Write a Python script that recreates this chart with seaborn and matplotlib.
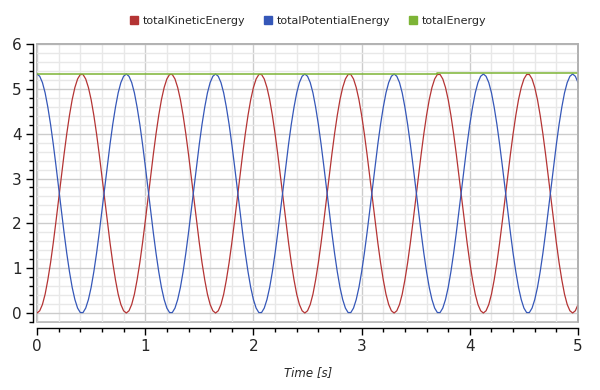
import numpy as np
import pandas as pd
import matplotlib
matplotlib.use('Agg')
import matplotlib.pyplot as plt
from matplotlib.ticker import MultipleLocator
from matplotlib.lines import Line2D
import seaborn as sns

# sampling grid of the simulation result (step 0.025 s)
time = np.linspace(0, 5, 201)

kinetic = [
    0.00, 0.05, 0.19, 0.42, 0.74, 1.12, 1.56, 2.04, 2.54, 3.04, 3.54, 4.00, 4.41, 4.76, 5.03, 5.22, 5.32, 5.32, 5.22, 5.03, 4.76, 4.41, 4.00, 3.54, 3.04, 2.54, 2.04, 1.56, 1.12, 0.74, 0.42, 0.19, 0.05,
    0.00, 0.05, 0.19, 0.42, 0.74, 1.12, 1.56, 2.04, 2.54, 3.04, 3.54, 4.00, 4.41, 4.76, 5.03, 5.22, 5.32, 5.32, 5.22, 5.03, 4.76, 4.41, 4.00, 3.54, 3.04, 2.54, 2.04, 1.56, 1.12, 0.74, 0.42, 0.19, 0.05,
    0.00, 0.05, 0.19, 0.42, 0.74, 1.12, 1.56, 2.04, 2.54, 3.04, 3.54, 4.00, 4.41, 4.76, 5.03, 5.22, 5.32, 5.32, 5.22, 5.03, 4.76, 4.41, 4.00, 3.54, 3.04, 2.54, 2.04, 1.56, 1.12, 0.74, 0.42, 0.19, 0.05,
    0.00, 0.05, 0.19, 0.42, 0.74, 1.12, 1.56, 2.04, 2.54, 3.04, 3.54, 4.00, 4.41, 4.76, 5.03, 5.22, 5.32, 5.32, 5.22, 5.03, 4.76, 4.41, 4.00, 3.54, 3.04, 2.54, 2.04, 1.56, 1.12, 0.74, 0.42, 0.19, 0.05,
    0.00, 0.05, 0.19, 0.42, 0.74, 1.12, 1.56, 2.04, 2.54, 3.04, 3.54, 4.00, 4.41, 4.76, 5.03, 5.22, 5.32, 5.32, 5.22, 5.03, 4.76, 4.41, 4.00, 3.54, 3.04, 2.54, 2.04, 1.56, 1.12, 0.74, 0.42, 0.19, 0.05,
    0.00, 0.05, 0.19, 0.42, 0.74, 1.12, 1.56, 2.04, 2.54, 3.04, 3.54, 4.00, 4.41, 4.76, 5.03, 5.22, 5.32, 5.32, 5.22, 5.03, 4.76, 4.41, 4.00, 3.54, 3.04, 2.54, 2.04, 1.56, 1.12, 0.74, 0.42, 0.19, 0.05,
    0.00, 0.05, 0.19,
]

potential = [
    5.33, 5.28, 5.14, 4.91, 4.59, 4.21, 3.77, 3.29, 2.79, 2.29, 1.79, 1.33, 0.92, 0.57, 0.30, 0.11, 0.01, 0.01, 0.11, 0.30, 0.57, 0.92, 1.33, 1.79, 2.29, 2.79, 3.29, 3.77, 4.21, 4.59, 4.91, 5.14, 5.28,
    5.33, 5.28, 5.14, 4.91, 4.59, 4.21, 3.77, 3.29, 2.79, 2.29, 1.79, 1.33, 0.92, 0.57, 0.30, 0.11, 0.01, 0.01, 0.11, 0.30, 0.57, 0.92, 1.33, 1.79, 2.29, 2.79, 3.29, 3.77, 4.21, 4.59, 4.91, 5.14, 5.28,
    5.33, 5.28, 5.14, 4.91, 4.59, 4.21, 3.77, 3.29, 2.79, 2.29, 1.79, 1.33, 0.92, 0.57, 0.30, 0.11, 0.01, 0.01, 0.11, 0.30, 0.57, 0.92, 1.33, 1.79, 2.29, 2.79, 3.29, 3.77, 4.21, 4.59, 4.91, 5.14, 5.28,
    5.33, 5.28, 5.14, 4.91, 4.59, 4.21, 3.77, 3.29, 2.79, 2.29, 1.79, 1.33, 0.92, 0.57, 0.30, 0.11, 0.01, 0.01, 0.11, 0.30, 0.57, 0.92, 1.33, 1.79, 2.29, 2.79, 3.29, 3.77, 4.21, 4.59, 4.91, 5.14, 5.28,
    5.33, 5.28, 5.14, 4.91, 4.59, 4.21, 3.77, 3.29, 2.79, 2.29, 1.79, 1.33, 0.92, 0.57, 0.30, 0.11, 0.01, 0.01, 0.11, 0.30, 0.57, 0.92, 1.33, 1.79, 2.29, 2.79, 3.29, 3.77, 4.21, 4.59, 4.91, 5.14, 5.28,
    5.33, 5.28, 5.14, 4.91, 4.59, 4.21, 3.77, 3.29, 2.79, 2.29, 1.79, 1.33, 0.92, 0.57, 0.30, 0.11, 0.01, 0.01, 0.11, 0.30, 0.57, 0.92, 1.33, 1.79, 2.29, 2.79, 3.29, 3.77, 4.21, 4.59, 4.91, 5.14, 5.28,
    5.33, 5.28, 5.14,
]

# total energy: constant with a small step near t=3.7
total_time = [0.0, 3.7, 5.0]
total = [5.33, 5.35, 5.35]

names = ['totalKineticEnergy', 'totalPotentialEnergy', 'totalEnergy']
colors = ['#b43434', '#3557b8', '#7db436']

df = pd.DataFrame({'time': np.concatenate([time, time]),
                   'value': kinetic + potential,
                   'var': [names[0]] * len(time) + [names[1]] * len(time)})

sns.set_style('white')
plt.rcParams['font.family'] = ['DejaVu Sans']

fig = plt.figure(figsize=(6, 3.9), dpi=100)
ax = fig.add_axes([0.0617, 0.1744, 0.9017, 0.7128])

sns.lineplot(data=df, x='time', y='value', hue='var', palette=colors[:2],
             estimator=None, sort=False, legend=False, lw=0.9, ax=ax)
sns.lineplot(x=total_time, y=total, color=colors[2], drawstyle='steps-post',
             lw=1.1, ax=ax)

ax.set_xlim(0, 5)
ax.set_ylim(-0.2, 6)
ax.xaxis.set_major_locator(MultipleLocator(1))
ax.xaxis.set_minor_locator(MultipleLocator(0.2))
ax.yaxis.set_major_locator(MultipleLocator(1))
ax.yaxis.set_minor_locator(MultipleLocator(0.2))

ax.set_axisbelow(True)
ax.grid(which='major', color='#cccccc', lw=1.0)
ax.grid(which='minor', color='#e8e8e8', lw=1.0)

# gray frame round the plot area, black offset axes
ax.patch.set_edgecolor('#b0b0b0')
ax.patch.set_linewidth(1.2)
for s in ['top', 'right']:
    ax.spines[s].set_color('#b0b0b0')
    ax.spines[s].set_linewidth(1.2)
ax.spines['left'].set_position(('outward', 3))
ax.spines['bottom'].set_position(('outward', 4))
for s in ['left', 'bottom']:
    ax.spines[s].set_color('black')
    ax.spines[s].set_linewidth(1.0)

ax.tick_params(which='major', direction='out', length=5, width=1, color='black',
               labelsize=11, pad=3, left=True, bottom=True)
ax.tick_params(which='minor', direction='out', length=3, width=1, color='black',
               left=True, bottom=True)
ax.set_xlabel('')
ax.set_ylabel('')

fig.text(0.513, 0.046, 'Time [s]', style='italic', fontsize=8.5, ha='center', va='center')

handles = [Line2D([], [], marker='s', ls='none', color=c, markersize=6) for c in colors]
fig.legend(handles, names, loc='center', bbox_to_anchor=(0.513, 0.947), ncol=3,
           frameon=False, fontsize=8, handlelength=0.8, handletextpad=0.4,
           columnspacing=1.6)

fig.savefig('out.png', dpi=100)
